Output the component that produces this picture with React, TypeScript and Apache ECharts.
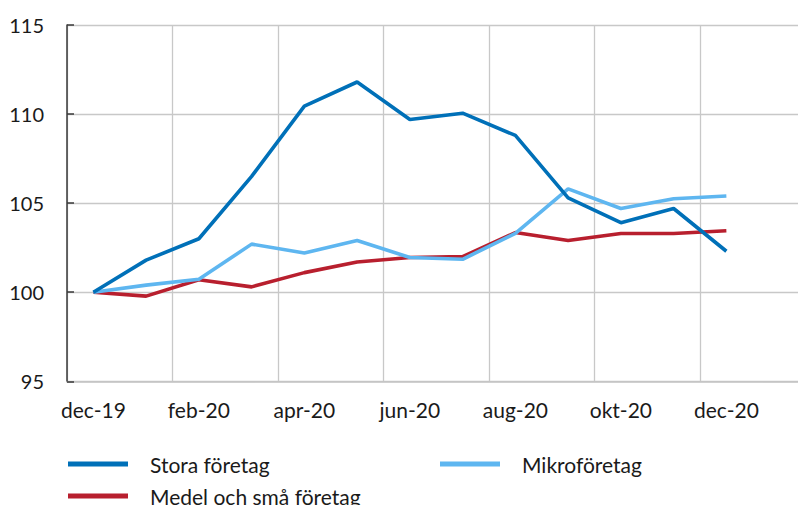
import React, { useEffect, useRef } from "react";
import * as echarts from "echarts";

const categories = [
  "dec-19", "jan-20", "feb-20", "mar-20", "apr-20", "maj-20", "jun-20",
  "jul-20", "aug-20", "sep-20", "okt-20", "nov-20", "dec-20", "jan-21",
];
const stora = [100, 101.8, 103.0, 106.5, 110.45, 111.8, 109.7, 110.05, 108.8, 105.3, 103.9, 104.7, 102.3];
const medel = [100, 99.78, 100.7, 100.3, 101.1, 101.7, 101.95, 102.0, 103.35, 102.9, 103.3, 103.3, 103.45];
const mikro = [100, 100.4, 100.73, 102.7, 102.2, 102.9, 101.95, 101.85, 103.3, 105.8, 104.7, 105.25, 105.4];
const seriesNames = ["Stora företag", "Medel och små företag", "Mikroföretag"];

const FONT = "Lato, 'Open Sans', sans-serif";

export default function App() {
  const ref = useRef<HTMLDivElement>(null);
  useEffect(() => {
    if (!ref.current) return;
    const chart = echarts.init(ref.current, null, { renderer: "svg" });
    const legendText = { fontSize: 21, lineHeight: 22, color: "#1a1a1a", fontFamily: FONT, padding: [0, 0, 0, 17] };
    const legendBase = { icon: "rect", itemWidth: 60, itemHeight: 5, orient: "horizontal" as const, textStyle: legendText };
    chart.setOption({
      animation: false,
      backgroundColor: "#ffffff",
      grid: { left: 67, top: 25, width: 738.5, height: 356.3, containLabel: false },
      legend: [
        { ...legendBase, data: [seriesNames[0]], left: 63, top: 448 },
        { ...legendBase, data: [seriesNames[2]], left: 435, top: 448 },
        { ...legendBase, data: [seriesNames[1]], left: 63, top: 480 },
      ],
      xAxis: {
        type: "category",
        data: categories,
        boundaryGap: true,
        axisLine: { show: true, lineStyle: { color: "#c4c4c4", width: 1.5 } },
        axisTick: { show: false },
        axisLabel: { interval: 1, fontSize: 21, color: "#1a1a1a", fontFamily: FONT, margin: 18 },
        splitLine: { show: true, interval: 1, lineStyle: { color: "#c8c8c8", width: 1.3 } },
      },
      yAxis: {
        type: "value",
        min: 95,
        max: 115,
        interval: 5,
        axisLine: { show: true, lineStyle: { color: "#3a3a3a", width: 1.5 } },
        axisTick: { show: true, inside: true, length: 7, lineStyle: { color: "#3a3a3a", width: 1.5 } },
        axisLabel: { fontSize: 20, color: "#1a1a1a", fontFamily: FONT, margin: 23 },
        splitLine: { show: true, lineStyle: { color: "#c8c8c8", width: 1.3 } },
      },
      series: [
        {
          name: seriesNames[0], type: "line", data: stora, showSymbol: false, symbol: "none",
          lineStyle: { color: "#0070b8", width: 3.6 }, itemStyle: { color: "#0070b8" }, z: 3,
        },
        {
          name: seriesNames[2], type: "line", data: mikro, showSymbol: false, symbol: "none",
          lineStyle: { color: "#5eb6f0", width: 3.6 }, itemStyle: { color: "#5eb6f0" }, z: 2,
        },
        {
          name: seriesNames[1], type: "line", data: medel, showSymbol: false, symbol: "none",
          lineStyle: { color: "#b81f2e", width: 3.6 }, itemStyle: { color: "#b81f2e" }, z: 1,
        },
      ],
    });
    return () => chart.dispose();
  }, []);
  return (
    <div
      ref={ref}
      style={{ position: "fixed", left: 0, top: 0, width: 820, height: 505, background: "#fff" }}
    />
  );
}
